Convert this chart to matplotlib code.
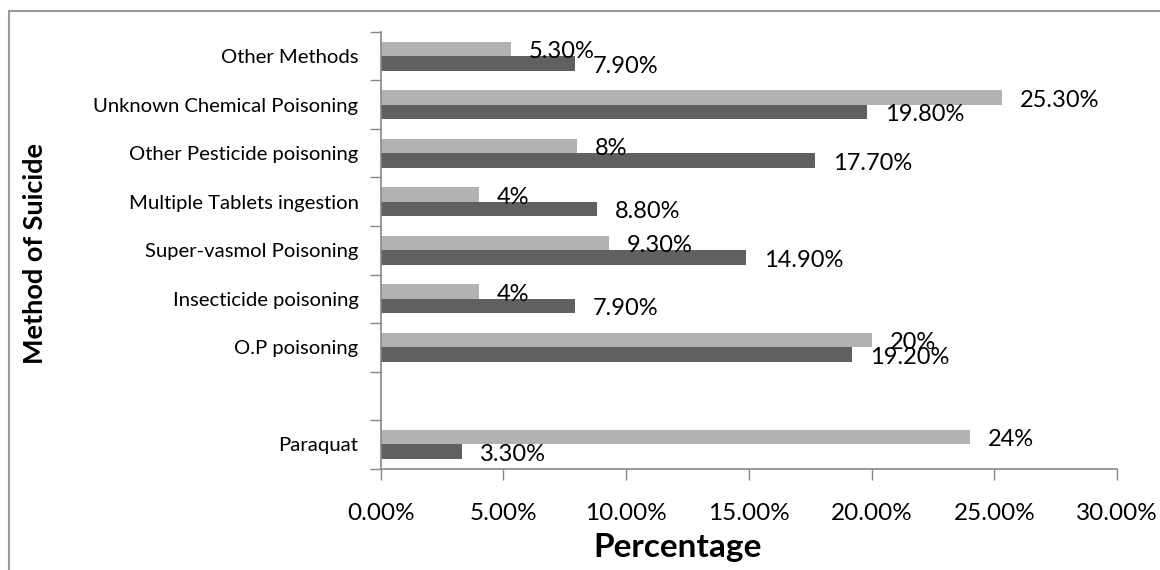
import numpy as np
import matplotlib
matplotlib.use("Agg")
import matplotlib.pyplot as plt
from matplotlib.patches import Rectangle
from matplotlib.ticker import FixedLocator, FuncFormatter

# Methods listed bottom to top; the blank entry leaves an empty row
categories = ["Paraquat", "", "O.P poisoning", "Insecticide poisoning",
              "Super-vasmol Poisoning", "Multiple Tablets ingestion",
              "Other Pesticide poisoning", "Unknown Chemical Poisoning",
              "Other Methods"]
series_light = [24.0, np.nan, 20.0, 4.0, 9.3, 4.0, 8.0, 25.3, 5.3]
series_dark = [3.3, np.nan, 19.2, 7.9, 14.9, 8.8, 17.7, 19.8, 7.9]
labels_light = ["24%", "", "20%", "4%", "9.30%", "4%", "8%", "25.30%", "5.30%"]
labels_dark = ["3.30%", "", "19.20%", "7.90%", "14.90%", "8.80%", "17.70%",
               "19.80%", "7.90%"]
x_ticks = [0, 5, 10, 15, 20, 25, 30]

FONT = "Lato"
plt.rcParams["font.family"] = [FONT, "DejaVu Sans"]

fig = plt.figure(figsize=(11.6, 5.7), dpi=100)
ax = fig.add_axes([0.3282, 0.178, 0.6348, 0.7659])

# outer chart frame
fig.patches.append(Rectangle((9 / 1160, -0.05), 1.2, 1 - 11 / 570 + 0.05,
                             transform=fig.transFigure, fill=False,
                             edgecolor="#9a9a9a", linewidth=1.5))

y = np.arange(len(categories))
h = 0.3
ax.barh(y + h / 2, series_light, height=h, color="#b2b2b2")
ax.barh(y - h / 2, series_dark, height=h, color="#606060")

for yi, v, t in zip(y, series_light, labels_light):
    if t:
        ax.annotate(t, (v, yi + h / 2), xytext=(13, -2), textcoords="offset points",
                    ha="left", va="center", fontsize=17, color="black")
for yi, v, t in zip(y, series_dark, labels_dark):
    if t:
        ax.annotate(t, (v, yi - h / 2), xytext=(13, -2), textcoords="offset points",
                    ha="left", va="center", fontsize=17, color="black")

ax.set_xlim(0, 30)
ax.set_ylim(-0.5, len(categories) - 0.5)

ax.xaxis.set_major_locator(FixedLocator(x_ticks))
ax.xaxis.set_major_formatter(FuncFormatter(lambda v, p: f"{v:.2f}%"))
ax.tick_params(axis="x", length=8, width=1, color="#868686", labelsize=17.5,
               pad=17)

ax.yaxis.set_major_locator(FixedLocator(np.arange(-0.5, len(categories), 1.0)))
ax.yaxis.set_major_formatter(FuncFormatter(lambda v, p: ""))
ax.yaxis.set_minor_locator(FixedLocator(y))
ax.set_yticklabels(categories, minor=True)
ax.tick_params(axis="y", which="major", length=8, width=1, color="#868686")
ax.tick_params(axis="y", which="minor", length=0, labelsize=14.6, pad=16)

for s in ("top", "right"):
    ax.spines[s].set_visible(False)
for s in ("left", "bottom"):
    ax.spines[s].set_color("#868686")
    ax.spines[s].set_linewidth(1.2)

fig.text(678 / 1160, 1 - 548 / 570, "Percentage", fontsize=24,
         fontweight="bold", ha="center", va="center")
fig.text(35 / 1160, 1 - 253 / 570, "Method of Suicide", rotation=90,
         fontsize=19.5, fontweight="bold", ha="center", va="center")

fig.savefig("out.png", dpi=100)
